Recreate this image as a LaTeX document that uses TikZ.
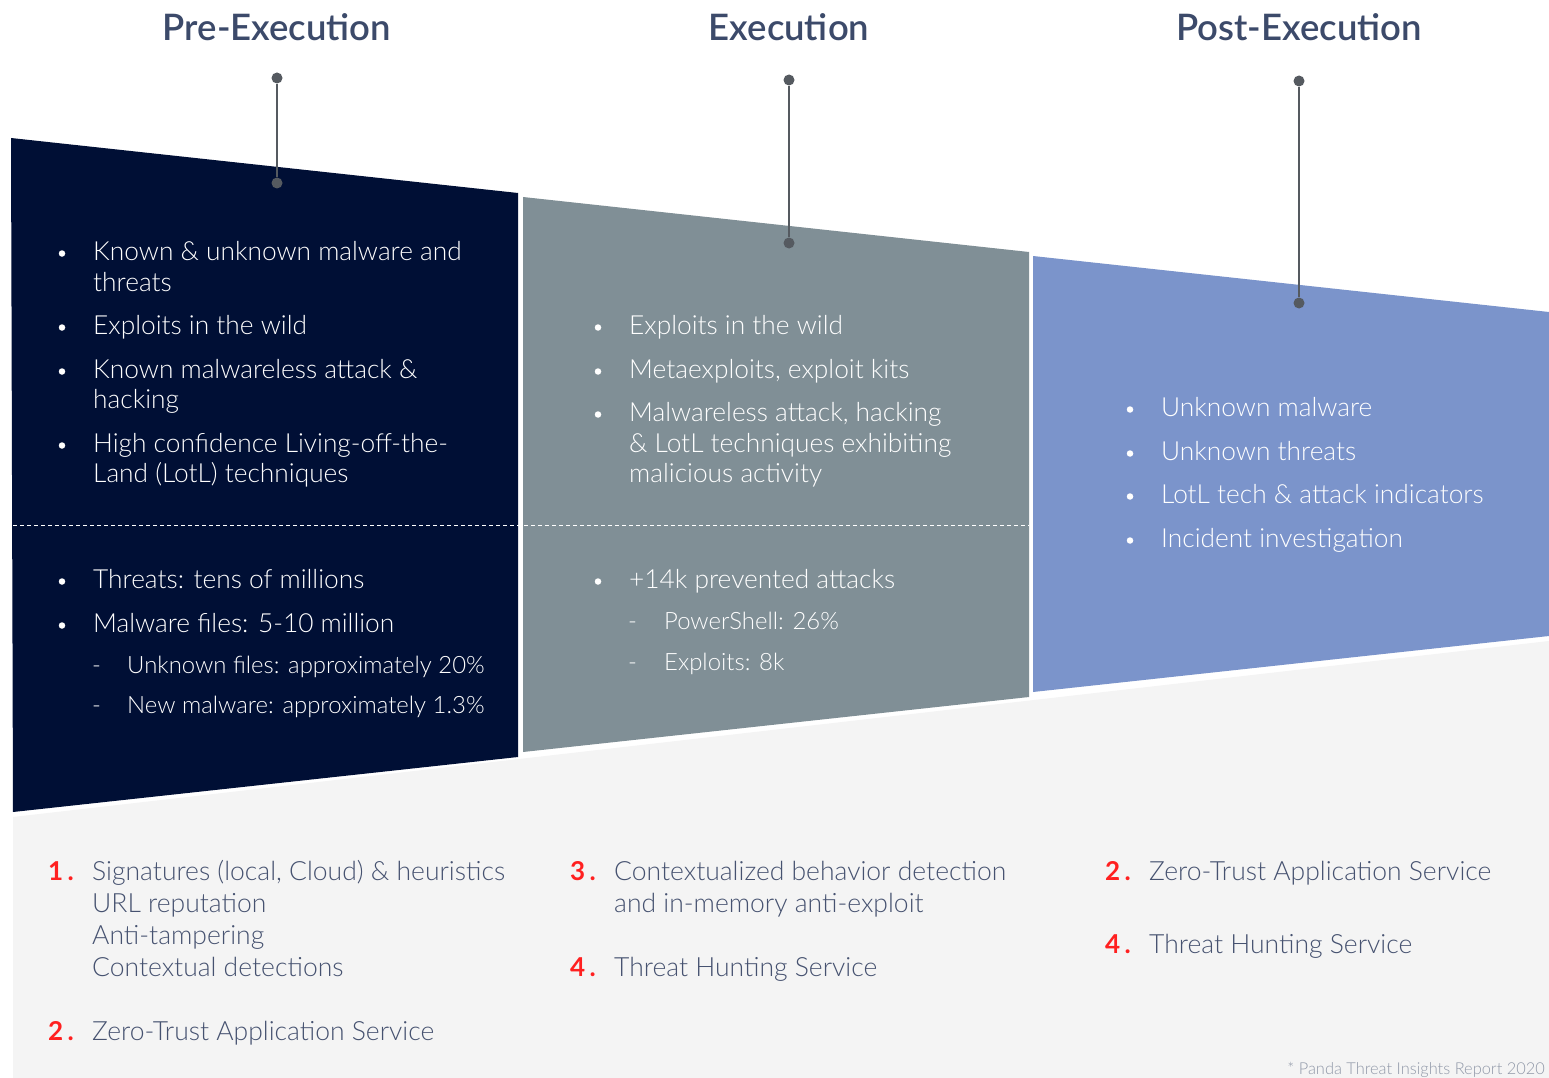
\documentclass[tikz,border=0pt]{standalone}
\usepackage{fontspec}
\setmainfont{Lato Light}[BoldFont={Lato Bold}]
\newfontfamily\titlefont{Lato Semibold}
\newfontfamily\numfont{Lato Bold}
\definecolor{navy}{HTML}{000F35}
\definecolor{slate}{HTML}{808F96}
\definecolor{periw}{HTML}{7B94CB}
\definecolor{lightbg}{HTML}{F4F4F4}
\definecolor{pingray}{HTML}{555A60}
\definecolor{titlec}{HTML}{3C4A6A}
\definecolor{bodyc}{HTML}{465270}
\definecolor{numred}{HTML}{FF2020}
\definecolor{footc}{HTML}{9098A8}
\tikzset{
  ptext/.style={font=\fontsize{26.3}{30}\selectfont, anchor=base west, inner sep=0pt, text=white},
  stext/.style={font=\fontsize{23.9}{28}\selectfont, anchor=base west, inner sep=0pt, text=white},
  btext/.style={font=\fontsize{26.5}{32}\selectfont, anchor=base west, inner sep=0pt, text=bodyc},
  numtext/.style={font=\numfont\fontsize{26}{32}\selectfont, anchor=base west, inner sep=0pt, text=numred},
  ttext/.style={font=\titlefont\fontsize{36.5}{40}\selectfont, anchor=base, inner sep=0pt, text=titlec},
  bul/.style={circle, fill=#1, minimum size=6.5pt, inner sep=0pt},
  pindot/.style={circle, fill=pingray, minimum size=11pt, inner sep=0pt},
  pinline/.style={draw=pingray, line width=2pt},
}
\begin{document}
\begin{tikzpicture}[x=1pt,y=-1pt]
\fill[white] (0,0) rectangle (1549,1078);
\useasboundingbox (0,0) rectangle (1549,1078);
% background shapes
\fill[lightbg] (13,817) -- (1549,641) -- (1549,1078) -- (13,1078) -- cycle;
\fill[navy] (11,138) -- (518,193) -- (518,757) -- (13,812) -- cycle;
\fill[slate] (523,197) -- (1029,252) -- (1029,697) -- (523,752) -- cycle;
\fill[periw] (1033,256) -- (1549,312) -- (1549,636) -- (1033,692) -- cycle;
\draw[white, line width=1pt, dash pattern=on 4pt off 3pt] (13,525) -- (1029,525);

% titles
\node[ttext] (t1) at (277,41) {Pre-Execution};
\node[ttext] (t2) at (789,41) {Execution};
\node[ttext] (t3) at (1299,41) {Post-Execution};

% pins
\node[pindot] (p1a) at (277,78) {};
\node[pindot] (p1b) at (277,183) {};
\node[pindot] (p2a) at (789,80) {};
\node[pindot] (p2b) at (789,243) {};
\node[pindot] (p3a) at (1299,81) {};
\node[pindot] (p3b) at (1299,303) {};
\draw[pinline] (p1a) -- (p1b);
\draw[pinline] (p2a) -- (p2b);
\draw[pinline] (p3a) -- (p3b);

% panel 1
\node[bul=white] (b11) at (62,253.5) {};
\node[ptext] (a11) at (93,260) {Known \& unknown malware and};
\node[ptext] (a12) at (93,291) {threats};
\node[bul=white] (b12) at (62,327.5) {};
\node[ptext] (a13) at (93,334) {Exploits in the wild};
\node[bul=white] (b13) at (62,371.5) {};
\node[ptext] (a14) at (93,378) {Known malwareless attack \&};
\node[ptext] (a15) at (93,408) {hacking};
\node[bul=white] (b14) at (62,445.5) {};
\node[ptext] (a16) at (93,452) {High confidence Living-off-the-};
\node[ptext] (a17) at (93,482) {Land (LotL) techniques};
\node[bul=white] (b15) at (62,581.5) {};
\node[ptext] (a18) at (93,588) {Threats: tens of millions};
\node[bul=white] (b16) at (62,625.5) {};
\node[ptext] (a19) at (93,632) {Malware files: 5-10 million};
\node[stext] (d11) at (92,673) {-};
\node[stext] (a110) at (127,673) {Unknown files: approximately 20\%};
\node[stext] (d12) at (92,713) {-};
\node[stext] (a111) at (127,713) {New malware: approximately 1.3\%};

% panel 2
\node[bul=white] (b21) at (598,327.5) {};
\node[ptext] (a21) at (629,334) {Exploits in the wild};
\node[bul=white] (b22) at (598,371.5) {};
\node[ptext] (a22) at (629,378) {Metaexploits, exploit kits};
\node[bul=white] (b23) at (598,414.5) {};
\node[ptext] (a23) at (629,421) {Malwareless attack, hacking};
\node[ptext] (a24) at (629,452) {\& LotL techniques exhibiting};
\node[ptext] (a25) at (629,482) {malicious activity};
\node[bul=white] (b24) at (598,581.5) {};
\node[ptext] (a26) at (629,588) {+14k prevented attacks};
\node[stext] (d21) at (628,629) {-};
\node[stext] (a27) at (664,629) {PowerShell: 26\%};
\node[stext] (d22) at (628,670) {-};
\node[stext] (a28) at (664,670) {Exploits: 8k};

% panel 3
\node[bul=white] (b31) at (1130,409.5) {};
\node[ptext] (a31) at (1161,416) {Unknown malware};
\node[bul=white] (b32) at (1130,453.5) {};
\node[ptext] (a32) at (1161,460) {Unknown threats};
\node[bul=white] (b33) at (1130,496.5) {};
\node[ptext] (a33) at (1161,503) {LotL tech \& attack indicators};
\node[bul=white] (b34) at (1130,540.5) {};
\node[ptext] (a34) at (1161,547) {Incident investigation};

% bottom column 1
\node[numtext] (n11) at (48,880) {1\,.};
\node[btext] (c11) at (92,880) {Signatures (local, Cloud) \& heuristics};
\node[btext] (c12) at (92,912) {URL reputation};
\node[btext] (c13) at (92,944) {Anti-tampering};
\node[btext] (c14) at (92,976) {Contextual detections};
\node[numtext] (n12) at (48,1040) {2\,.};
\node[btext] (c15) at (92,1040) {Zero-Trust Application Service};

% bottom column 2
\node[numtext] (n21) at (570,880) {3\,.};
\node[btext] (c21) at (614,880) {Contextualized behavior detection};
\node[btext] (c22) at (614,912) {and in-memory anti-exploit};
\node[numtext] (n22) at (570,976) {4\,.};
\node[btext] (c23) at (614,976) {Threat Hunting Service};

% bottom column 3
\node[numtext] (n31) at (1105,880) {2\,.};
\node[btext] (c31) at (1149,880) {Zero-Trust Application Service};
\node[numtext] (n32) at (1105,953) {4\,.};
\node[btext] (c32) at (1149,953) {Threat Hunting Service};

% footnote
\node[font=\fontsize{16.4}{18}\selectfont, anchor=base east, inner sep=0pt, text=footc] (fn) at (1545,1074) {* Panda Threat Insights Report 2020};
\end{tikzpicture}
\end{document}
